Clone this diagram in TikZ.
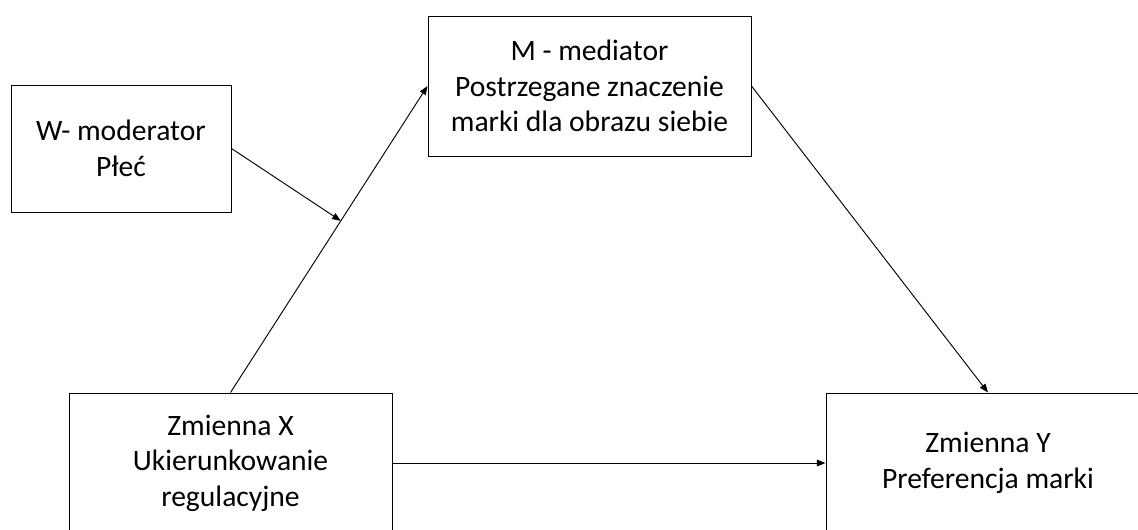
\documentclass[tikz,border=0pt]{standalone}
\usepackage{fontspec}
\setmainfont{Carlito}
\usetikzlibrary{arrows.meta,calc}
\begin{document}
\begin{tikzpicture}[x=0.75pt,y=-0.75pt,
  box/.style={draw,line width=0.75pt,align=center,inner sep=0pt,
    font=\fontsize{22.2}{26.6}\selectfont},
  conn/.style={line width=0.7pt,-{Triangle[length=6.5pt,width=5pt]}}]
\useasboundingbox (0,0) rectangle (1138,529);
\node[box,minimum width=165pt,minimum height=95.25pt] (W) at (121,148.5) {W- moderator\\Płeć};
\node[box,minimum width=242.25pt,minimum height=105pt] (M) at (589.5,86) {M - mediator\\Postrzegane znaczenie\\marki dla obrazu siebie};
\node[box,minimum width=242.25pt,minimum height=105pt] (X) at (230.5,463) {Zmienna X\\Ukierunkowanie\\regulacyjne};
\node[box,minimum width=243pt,minimum height=105pt] (Y) at (988,463) {Zmienna Y\\Preferencja marki};
\draw[conn] (X.north) -- (M.west);
\coordinate (J) at ($(X.north)!0.56!(M.west)$);
\draw[conn] (W.east) -- (J);
\draw[conn] (X.east) -- (Y.west);
\draw[conn] (M.east) -- (Y.north);
\end{tikzpicture}
\end{document}
